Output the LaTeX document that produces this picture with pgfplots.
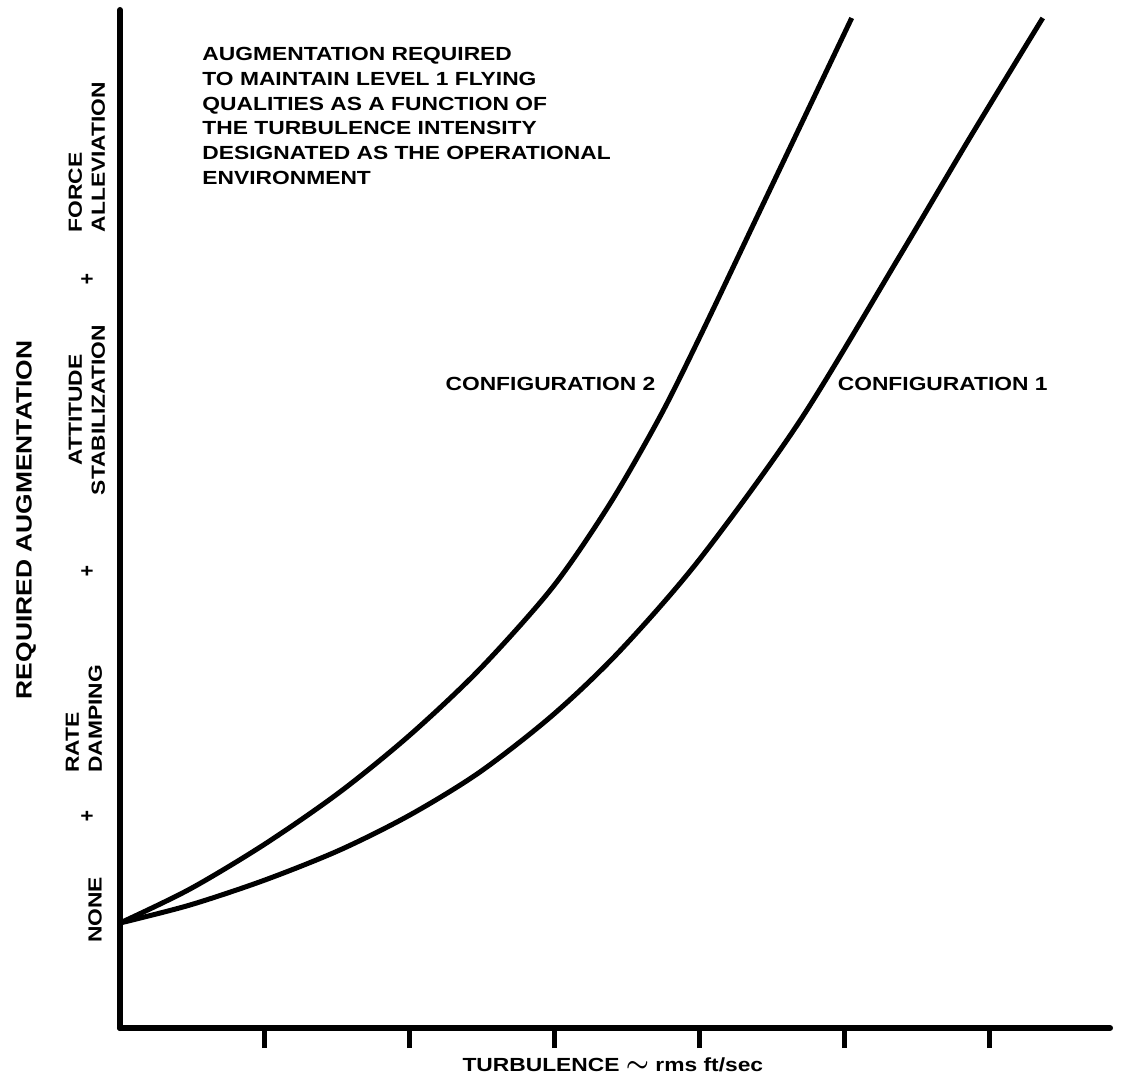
\documentclass[border=0pt]{standalone}
\usepackage{amsmath}
\usepackage{pgfplots}
\pgfplotsset{compat=1.18}
\usepackage{fontspec}
\setmainfont{Liberation Sans}[FakeStretch=1.2]

% curves: x in tick units, y in figure units
\pgfplotstableread{
x y
0.000 127
0.483 161
1.000 206
1.517 258
2.000 315
2.483 381
2.986 463
3.379 546
3.724 633
4.000 713
4.414 839
4.759 944
5.048 1032
}\configtwo
\pgfplotstableread{
x y
0.000 127
0.483 145
1.000 170
1.517 200
2.000 235
2.483 278
2.986 335
3.448 399
4.000 491
4.690 629
5.379 794
5.862 912
6.366 1032
}\configone

\begin{document}
\begin{tikzpicture}
\path[use as bounding box] (-60pt,-24pt) rectangle (503.5pt,514pt);
\begin{axis}[
    at={(0,0)}, anchor=south west,
    scale only axis,
    width=495pt, height=509pt,
    xmin=0, xmax=6.83, ymin=22, ymax=1040,
    axis x line=bottom, axis y line=left,
    axis line style={-, line width=3pt, line cap=round},
    xtick={1,2,3,4,5,6}, xticklabels={},
    ytick=\empty,
    xtick align=outside,
    major tick length=10pt,
    tick style={line width=2.5pt, black},
    clip=false,
    font=\bfseries\fontsize{9.5}{11.5}\selectfont,
]
\addplot[black, line width=2.5pt, smooth] table {\configtwo};
\addplot[black, line width=2.5pt, smooth] table {\configone};

\node[anchor=north west, align=left, inner sep=0pt,
      font=\bfseries\fontsize{9.5}{12.35}\selectfont]
  at (axis cs:0.566,1003)
  {AUGMENTATION REQUIRED\\TO MAINTAIN LEVEL 1 FLYING\\QUALITIES AS A FUNCTION OF\\THE TURBULENCE INTENSITY\\DESIGNATED AS THE OPERATIONAL\\ENVIRONMENT};
\node at (axis cs:2.97,666) {CONFIGURATION 2};
\node at (axis cs:5.676,666) {CONFIGURATION 1};

\node[rotate=90] at (axis cs:-0.172,140) {NONE};
\node[rotate=90, align=left] at (axis cs:-0.248,331) {RATE\\DAMPING};
\node[rotate=90, align=center] at (axis cs:-0.228,640) {ATTITUDE\\STABILIZATION};
\node[rotate=90, align=left] at (axis cs:-0.228,893) {FORCE\\ALLEVIATION};
\node at (axis cs:-0.228,233) {+};
\node at (axis cs:-0.228,478) {+};
\node at (axis cs:-0.228,770) {+};

\node[rotate=90, font=\bfseries\fontsize{11}{11}\selectfont] at (axis cs:-0.648,530) {REQUIRED AUGMENTATION};
\node[anchor=base] at (axis cs:3.4,-21) {TURBULENCE \scalebox{1.4}{$\boldsymbol{\sim}$} rms ft/sec};
\end{axis}
\end{tikzpicture}
\end{document}
